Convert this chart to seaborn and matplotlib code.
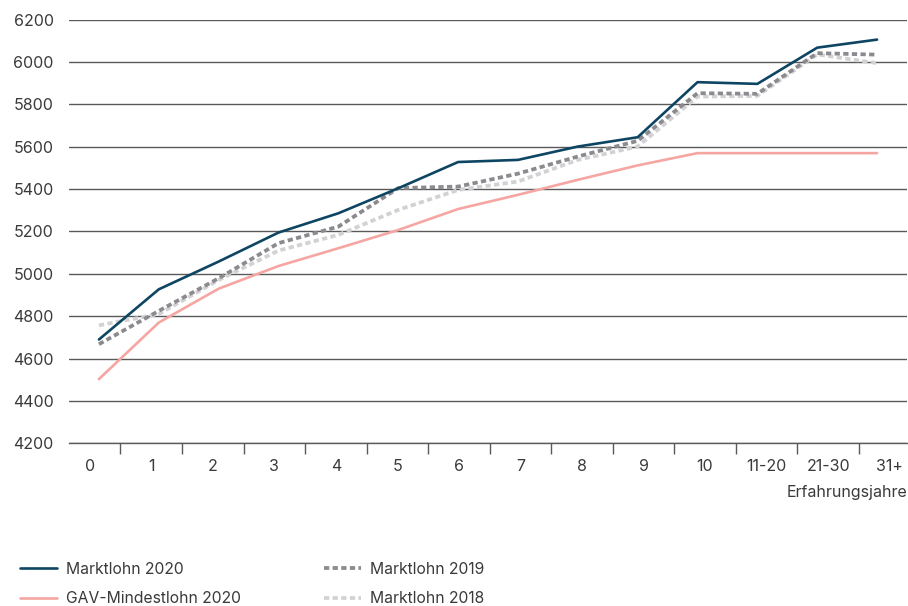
import numpy as np
import pandas as pd
import matplotlib
matplotlib.use("Agg")
import matplotlib.pyplot as plt
import seaborn as sns

# Experience categories on the x axis
categories = ["0", "1", "2", "3", "4", "5", "6", "7", "8", "9", "10",
              "11-20", "21-30", "31+"]

# Monthly wages (CHF) per experience bracket
marktlohn_2020 = [4690, 4927, 5058, 5195, 5286, 5404, 5528, 5538, 5601, 5645,
                  5905, 5897, 6068, 6106]
gav_mindestlohn_2020 = [4503, 4770, 4930, 5037, 5121, 5207, 5306, 5373, 5444,
                        5512, 5570, 5570, 5570, 5570]
marktlohn_2019 = [4668, 4825, 4979, 5145, 5223, 5405, 5412, 5473, 5554, 5628,
                  5853, 5850, 6042, 6035]
marktlohn_2018 = [4757, 4810, 4971, 5110, 5184, 5302, 5396, 5436, 5538, 5601,
                  5837, 5840, 6036, 5995]

y_ticks = [4200, 4400, 4600, 4800, 5000, 5200, 5400, 5600, 5800, 6000, 6200]

sns.set_theme(style="white")
plt.rcParams["font.family"] = ["Inter", "DejaVu Sans"]

text_color = "#3a3a3a"
grid_color = "#5a5a5a"

fig = plt.figure(figsize=(9.08, 6.06), dpi=100)
ax = fig.add_axes([0.076, 0.2685, 0.9229, 0.699])

x = np.arange(len(categories))
df = pd.DataFrame({
    "x": x,
    "Marktlohn 2020": marktlohn_2020,
    "GAV-Mindestlohn 2020": gav_mindestlohn_2020,
    "Marktlohn 2019": marktlohn_2019,
    "Marktlohn 2018": marktlohn_2018,
})

series_styles = [
    ("Marktlohn 2018", dict(color="#d2d2d4", linewidth=2.7, linestyle=(0, (1.4, 0.9)))),
    ("Marktlohn 2019", dict(color="#8b8b8f", linewidth=2.7, linestyle=(0, (1.4, 0.9)))),
    ("GAV-Mindestlohn 2020", dict(color="#f6a6a2", linewidth=1.9, linestyle="-")),
    ("Marktlohn 2020", dict(color="#0e4562", linewidth=1.9, linestyle="-")),
]
for name, kw in series_styles:
    sns.lineplot(data=df, x="x", y=name, ax=ax, label=name, legend=False, **kw)

ax.set_xlim(-0.5, len(categories) - 0.5)
ax.set_ylim(y_ticks[0], y_ticks[-1])
ax.set_yticks(y_ticks)
ax.yaxis.grid(True, color=grid_color, linewidth=1.0)
ax.xaxis.grid(False)
ax.tick_params(axis="y", length=0, pad=11, labelsize=11.5, labelcolor=text_color)

# Category bands are laid out on a slightly wider grid than the data points
band = 1.028
first_edge = 0.36
edges = first_edge + band * np.arange(len(categories) - 1)
centers = first_edge - band / 2 + band * np.arange(len(categories))
ax.set_xticks(centers)
ax.set_xticklabels(categories)
ax.set_xticks(edges, minor=True)
ax.tick_params(axis="x", which="major", length=0, pad=11, labelsize=11.5,
               labelcolor=text_color)
ax.tick_params(axis="x", which="minor", length=8, width=1, color=grid_color,
               direction="out", bottom=True)
ax.set_xlabel("")
ax.set_ylabel("")

for side in ["top", "right", "left"]:
    ax.spines[side].set_visible(False)
ax.spines["bottom"].set_color(grid_color)
ax.spines["bottom"].set_linewidth(1.0)

ax.text(1.0, -0.116, "Erfahrungsjahre", transform=ax.transAxes, ha="right",
        va="center", fontsize=11.5, color=text_color)

handles, labels = ax.get_legend_handles_labels()
order = ["Marktlohn 2020", "GAV-Mindestlohn 2020", "Marktlohn 2019", "Marktlohn 2018"]
hmap = dict(zip(labels, handles))
fig.legend([hmap[k] for k in order], order, loc="lower left",
           bbox_to_anchor=(20 / 908, 0.0), ncol=2, frameon=False,
           fontsize=11.3, handlelength=2.35, handletextpad=0.6,
           columnspacing=5.28, labelspacing=0.9, borderpad=0,
           borderaxespad=0, labelcolor=text_color)

fig.savefig("out.png", dpi=100)
